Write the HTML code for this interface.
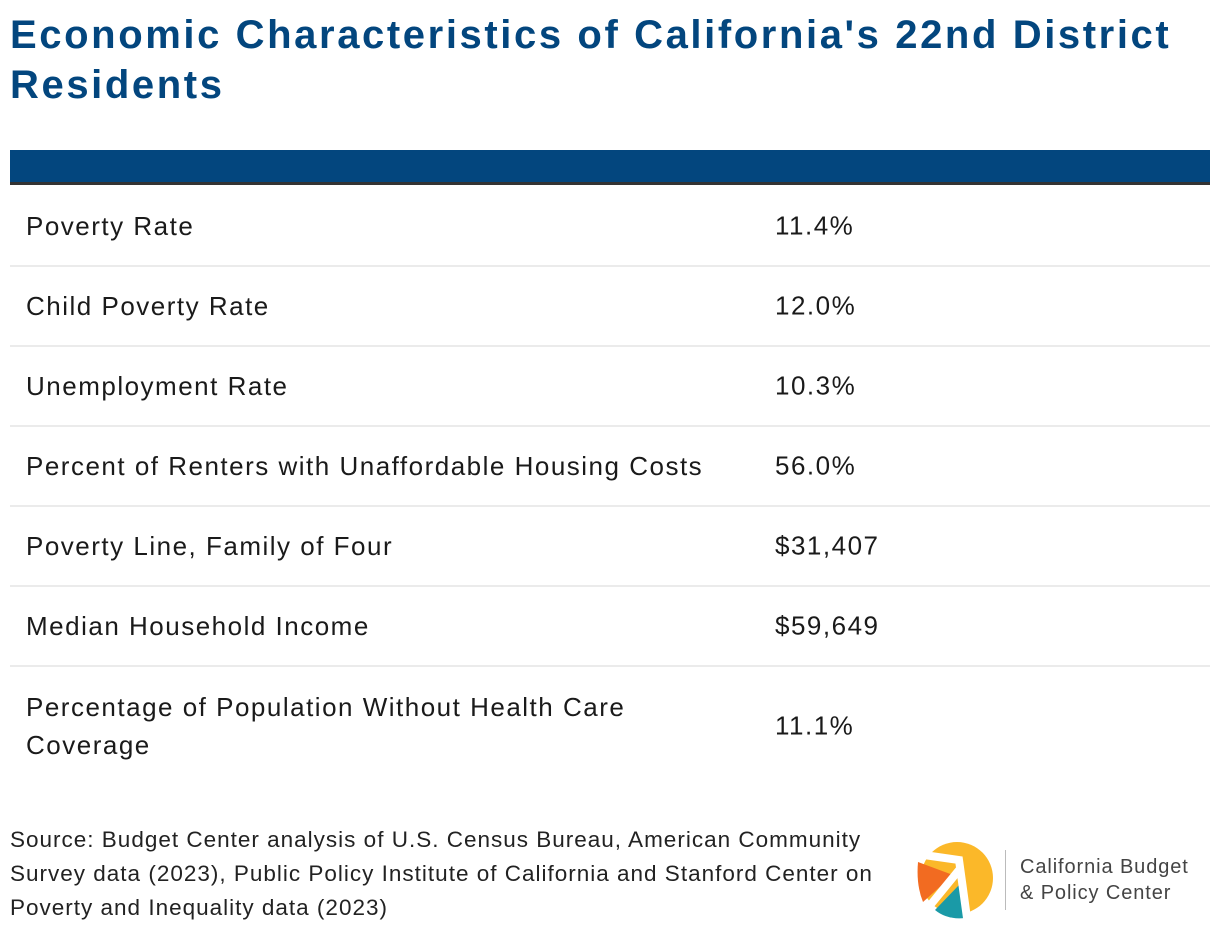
<!DOCTYPE html>
<html><head><meta charset="utf-8"><style>
body{margin:0;width:1220px;height:934px;background:#fff;font-family:"Liberation Sans","DejaVu Sans",sans-serif;position:relative;overflow:hidden}
h1{position:absolute;left:10px;top:10px;margin:0;font-size:40px;line-height:50px;color:#03467e;font-weight:bold;width:1210px;letter-spacing:2.6px;white-space:nowrap}
.hdr{position:absolute;left:10px;top:150px;width:1200px;height:32px;background:#03467e;border-bottom:3px solid #333}
.row{position:absolute;left:10px;width:1200px;height:78px;border-bottom:2px solid #ebebeb;font-size:26px;color:#1a1a1a;letter-spacing:1.5px}
.row .l{position:absolute;left:16px;top:50%;transform:translateY(-50%);width:720px;line-height:38px;white-space:nowrap}
.row .v{position:absolute;left:765px;top:50%;transform:translateY(-50%)}
.src{position:absolute;left:10px;top:823px;font-size:22.5px;line-height:34px;color:#222;width:900px;letter-spacing:1.0px;white-space:nowrap}
.logo-text{position:absolute;left:1020px;top:854px;font-size:20px;line-height:26px;color:#444;letter-spacing:0.9px;white-space:nowrap}
</style></head><body>
<h1>Economic Characteristics of California's 22nd District<br>Residents</h1>
<div class="hdr"></div>
<div id="rows"></div>
<div class="src">Source: Budget Center analysis of U.S. Census Bureau, American Community<br>Survey data (2023), Public Policy Institute of California and Stanford Center on<br>Poverty and Inequality data (2023)</div>
<svg style="position:absolute;left:915px;top:840px" width="90" height="80">
<circle cx="42" cy="38" r="36" fill="#fbb829"/>
<path d="M3 22 L38 35 L8 62 Q1 45 3 22Z" fill="#f26b21"/>
<path d="M20 70 L45 44 L50 78 Q32 80 20 70Z" fill="#1a9aa7"/>
<path d="M2 14 L44 20 L52 78" stroke="#fff" stroke-width="8" fill="none"/>
<path d="M8 74 L44 30" stroke="#fff" stroke-width="8"/>
</svg>
<div style="position:absolute;left:1005px;top:850px;width:1px;height:60px;background:#bbb"></div>
<div class="logo-text">California Budget<br>&amp; Policy Center</div>
<script>
const labels=["Poverty Rate","Child Poverty Rate","Unemployment Rate","Percent of Renters with Unaffordable Housing Costs","Poverty Line, Family of Four","Median Household Income","Percentage of Population Without Health Care Coverage"];
const values=["11.4%","12.0%","10.3%","56.0%","$31,407","$59,649","11.1%"];
const c=document.getElementById('rows');
let y=185;
labels.forEach((t,i)=>{
 const last=i===labels.length-1;
 const r=document.createElement('div');r.className='row';
 
 
 const h=last?118:78;
 r.style.top=(y+2)+'px';r.style.height=h+'px';
 if(last)r.style.borderBottom='none';
 const l=document.createElement('div');l.className='l';
 if(last){l.innerHTML='Percentage of Population Without Health Care<br>Coverage';}else{l.textContent=t;}
 
 
 const v=document.createElement('div');v.className='v';v.textContent=values[i];
 
 
 r.appendChild(l);r.appendChild(v);c.appendChild(r);
 y+=h+2;
});
</script>
</body></html>
